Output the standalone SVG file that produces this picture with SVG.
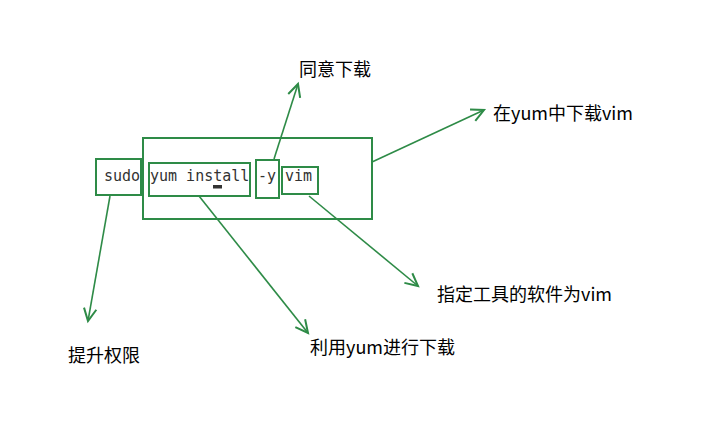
<svg xmlns="http://www.w3.org/2000/svg" width="725" height="440" viewBox="0 0 725 440">
<style>
.box{fill:none;stroke:#2e8b47;stroke-width:2}
.con{fill:none;stroke:#2e8b47;stroke-width:1.6}
.mono{font-family:"DejaVu Sans Mono","Liberation Mono",monospace;font-size:15px;fill:#333}
.lbl{font-family:"Noto Sans CJK SC","Noto Sans",sans-serif;font-size:18px;fill:#000}
</style>
<defs>
<marker id="arr" markerUnits="userSpaceOnUse" markerWidth="20" markerHeight="20" refX="0" refY="0" viewBox="-12 -8 14 16" orient="auto">
<path d="M-10,-5 L0,0 L-10,5" fill="none" stroke="#2e8b47" stroke-width="1.6"/>
</marker>
</defs>
<rect width="725" height="440" fill="#fff"/>
<g id="terminal">
<rect class="box" x="143" y="138" width="229" height="81"/>
<rect x="213" y="185" width="9" height="3.5" fill="#333"/>
</g>
<g id="sudo">
<rect class="box" x="96" y="159" width="45" height="36"/>
<text class="mono" x="104" y="181">sudo</text>
</g>
<g id="yum-install">
<rect class="box" x="149" y="163" width="101" height="33"/>
<text class="mono" x="150" y="181">yum install</text>
</g>
<g id="flag-y">
<rect class="box" x="256" y="160" width="23" height="38"/>
<text class="mono" x="258" y="181">-y</text>
</g>
<g id="vim">
<rect class="box" x="282" y="167" width="36" height="27"/>
<text class="mono" x="285" y="181">vim</text>
</g>
<g id="label-agree"><text class="lbl" x="299" y="76">同意下载</text></g>
<g id="label-yum-vim"><text class="lbl" x="493" y="120">在yum中下载vim</text></g>
<g id="label-sudo"><text class="lbl" x="68" y="362">提升权限</text></g>
<g id="label-yum"><text class="lbl" x="310" y="354">利用yum进行下载</text></g>
<g id="label-vim"><text class="lbl" x="437" y="301">指定工具的软件为vim</text></g>
<g id="connectors">
<line class="con" x1="274" y1="159" x2="298" y2="84" marker-end="url(#arr)"/>
<line class="con" x1="372" y1="162" x2="484" y2="110" marker-end="url(#arr)"/>
<line class="con" x1="110" y1="196" x2="88" y2="321" marker-end="url(#arr)"/>
<line class="con" x1="199" y1="196" x2="308" y2="333" marker-end="url(#arr)"/>
<line class="con" x1="309" y1="196" x2="418" y2="286" marker-end="url(#arr)"/>
</g>
</svg>
